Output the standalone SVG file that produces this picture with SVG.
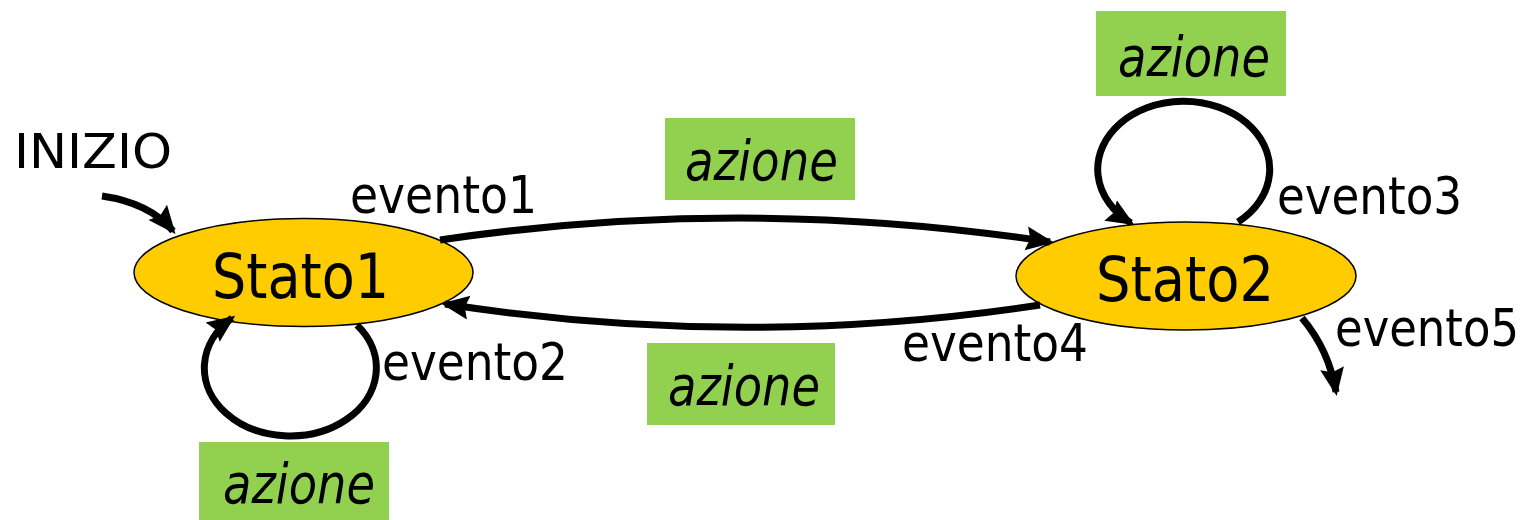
<svg xmlns="http://www.w3.org/2000/svg" width="1535" height="520" viewBox="0 0 1535 520">
  <style>
    .state { fill: #FFCC00; stroke: #000; stroke-width: 1.5; }
    .act { fill: #92D050; }
    .lbl { font-family: "DejaVu Sans", Verdana, sans-serif; font-stretch: condensed; fill: #000; }
    .ev { font-size: 52px; }
    .start { font-size: 48px; }
    .st { font-size: 63px; }
    .az { font-size: 55px; font-style: italic; }
    .edge { fill: none; stroke: #000; stroke-width: 7; marker-end: url(#head); }
  </style>
  <defs>
    <marker id="head" markerUnits="userSpaceOnUse" viewBox="0 0 30 30" markerWidth="30" markerHeight="30" refX="24" refY="15" orient="auto">
      <path d="M0,3 L28,15 L0,27 L4,15 Z" fill="#000"/>
    </marker>
  </defs>

  <g id="stato1">
    <ellipse class="state" cx="303.5" cy="272.5" rx="169.5" ry="54"/>
    <text class="lbl st" x="212" y="298" textLength="177" lengthAdjust="spacingAndGlyphs">Stato1</text>
  </g>
  <g id="stato2">
    <ellipse class="state" cx="1186" cy="276" rx="170" ry="54"/>
    <text class="lbl st" x="1096" y="301" textLength="178" lengthAdjust="spacingAndGlyphs">Stato2</text>
  </g>

  <!-- transitions, drawn over the states so the heads stay visible -->
  <g id="connectors">
    <path class="edge" d="M102,196 Q150,203 173,231"/>
    <path class="edge" d="M440,240 Q745,195 1050,242"/>
    <path class="edge" d="M1040,305 Q745,350 445,304"/>
    <path class="edge" d="M357,325 A86,68 0 1 1 232,318"/>
    <path class="edge" d="M1238,222 A86,68 0 1 0 1131,223"/>
    <path class="edge" d="M1302,318 Q1329,350 1336,392"/>
  </g>

  <g id="labels">
    <text class="lbl start" x="14" y="168" textLength="158" lengthAdjust="spacingAndGlyphs">INIZIO</text>
    <text class="lbl ev" x="350" y="213" textLength="187" lengthAdjust="spacingAndGlyphs">evento1</text>
    <text class="lbl ev" x="382" y="380" textLength="186" lengthAdjust="spacingAndGlyphs">evento2</text>
    <text class="lbl ev" x="1277" y="214" textLength="185" lengthAdjust="spacingAndGlyphs">evento3</text>
    <text class="lbl ev" x="902" y="361" textLength="186" lengthAdjust="spacingAndGlyphs">evento4</text>
    <text class="lbl ev" x="1335" y="346" textLength="184" lengthAdjust="spacingAndGlyphs">evento5</text>
  </g>

  <g id="azione-top">
    <rect class="act" x="665" y="118" width="190" height="82"/>
    <text class="lbl az" x="685" y="180" textLength="153" lengthAdjust="spacingAndGlyphs">azione</text>
  </g>
  <g id="azione-bottom">
    <rect class="act" x="647" y="343" width="188" height="82"/>
    <text class="lbl az" x="668" y="405" textLength="152" lengthAdjust="spacingAndGlyphs">azione</text>
  </g>
  <g id="azione-loop2">
    <rect class="act" x="1096" y="11" width="190" height="85"/>
    <text class="lbl az" x="1118" y="76" textLength="152" lengthAdjust="spacingAndGlyphs">azione</text>
  </g>
  <g id="azione-loop1">
    <rect class="act" x="199" y="442" width="190" height="78"/>
    <text class="lbl az" x="223" y="503" textLength="152" lengthAdjust="spacingAndGlyphs">azione</text>
  </g>
</svg>
